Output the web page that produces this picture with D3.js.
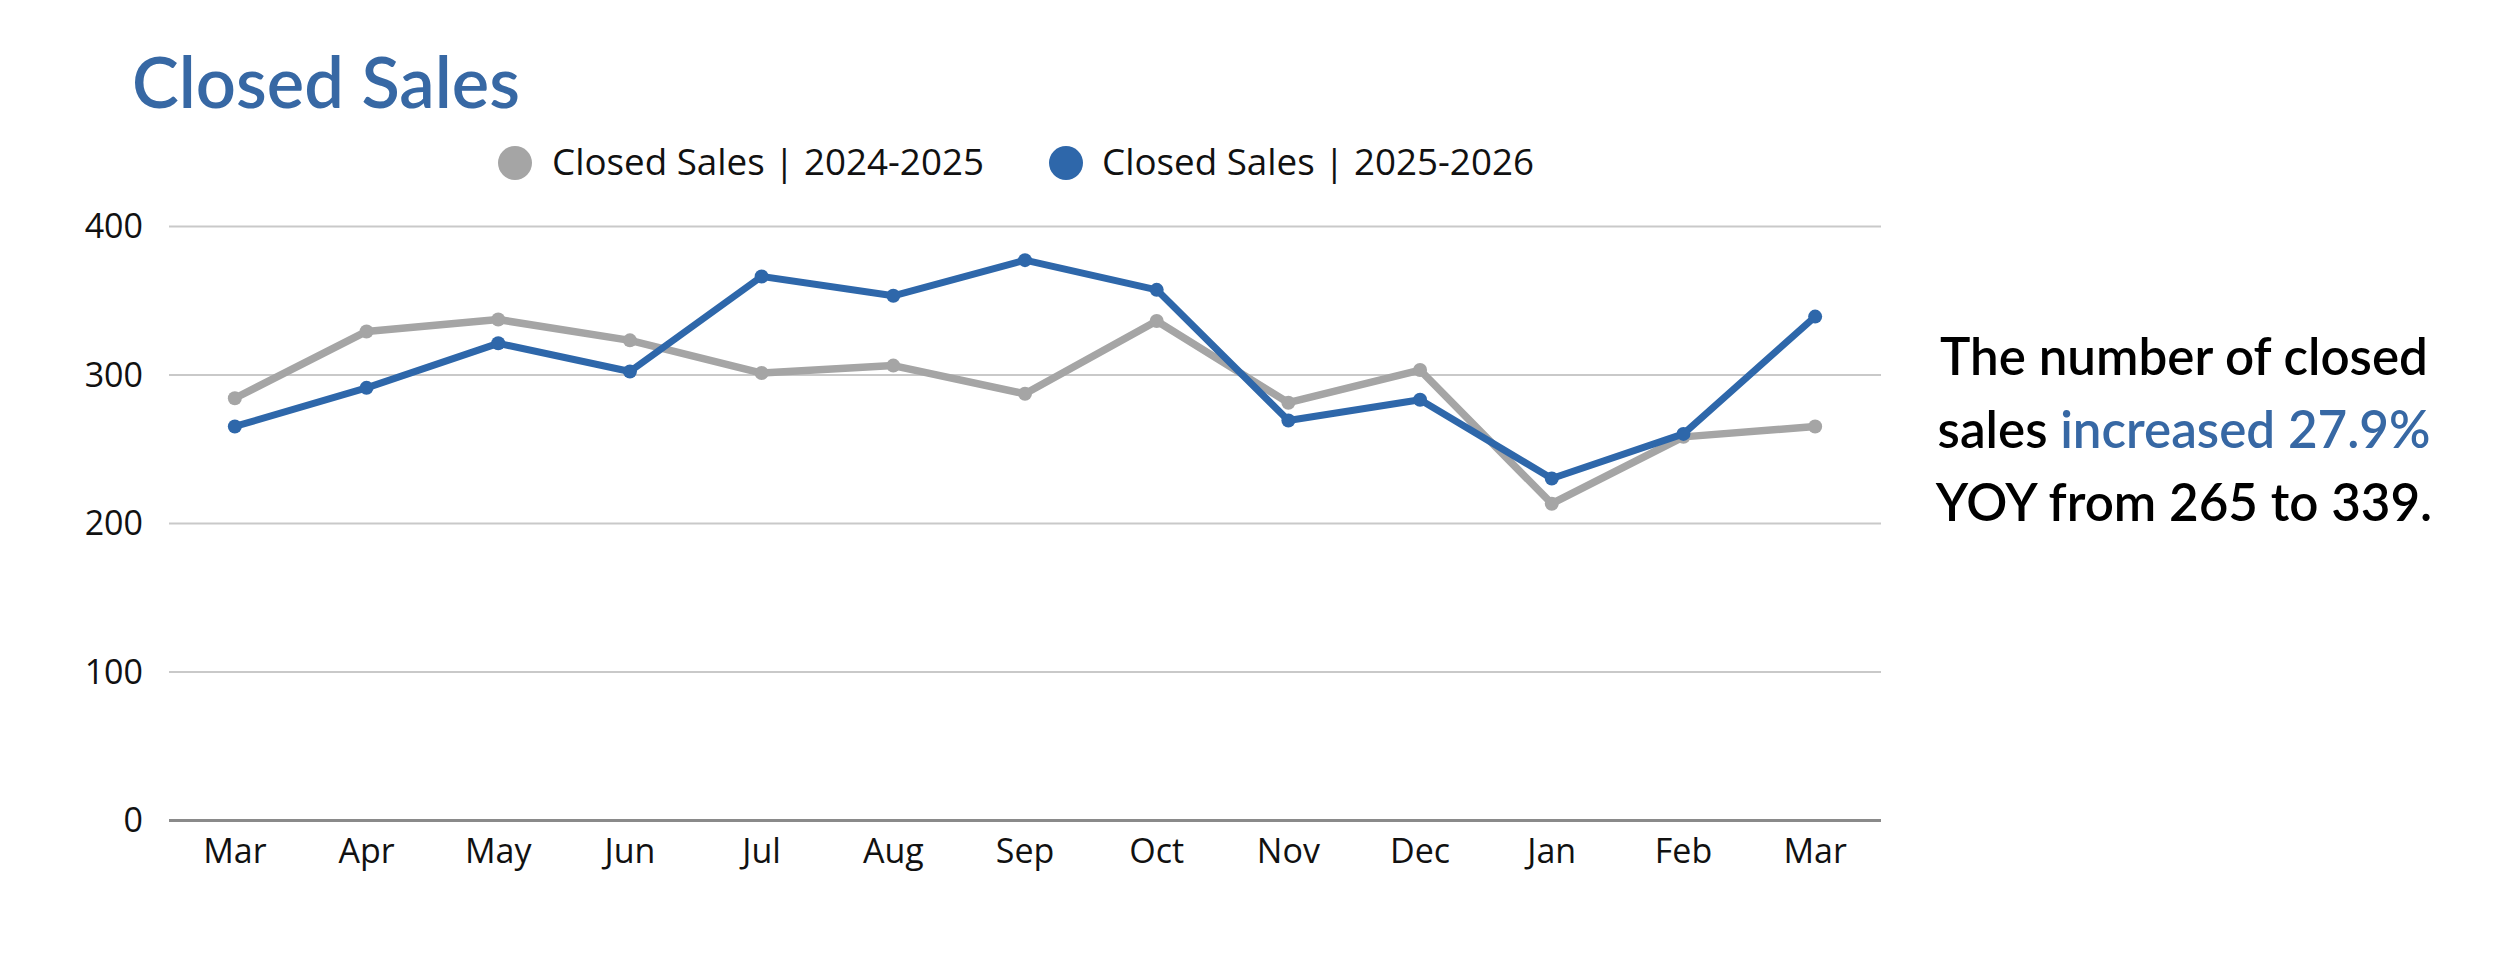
<!DOCTYPE html>
<html>
<head>
<meta charset="utf-8">
<script src="https://cdn.jsdelivr.net/npm/d3@7"></script>
<style>
  html, body { margin: 0; padding: 0; background: #ffffff; }
  svg { display: block; }
</style>
</head>
<body>
<svg id="chart" width="2500" height="966"></svg>
<script>
const months = ["Mar","Apr","May","Jun","Jul","Aug","Sep","Oct","Nov","Dec","Jan","Feb","Mar"];
const sales2024_2025 = [284, 329, 337, 323, 301, 306, 287, 336, 281, 303, 213, 258, 265];
const sales2025_2026 = [265, 291, 321, 302, 366, 353, 377, 357, 269, 283, 230, 260, 339];
const yTicks = [0, 100, 200, 300, 400];
const seriesNames = ["Closed Sales | 2024-2025", "Closed Sales | 2025-2026"];
const titleText = "Closed Sales";

const W = 2500, H = 966;
const margin = { left: 169, right: 2500 - 1881, top: 226, bottom: 966 - 820 };
const svg = d3.select("#chart");
const uiFont = "'Open Sans', 'Noto Sans', sans-serif";
const headFont = "Lato, 'Noto Sans', sans-serif";
const grayC = "#a5a5a5", blueC = "#2e67aa", titleC = "#3768a4";

const x = d3.scaleBand().domain(d3.range(months.length))
  .range([margin.left, W - margin.right]).paddingInner(0).paddingOuter(0);
const y = d3.scaleLinear().domain([0, 400]).range([H - margin.bottom, margin.top]);
const cx = i => x(i) + x.bandwidth() / 2;

function fit(sel, target) {
  const w = sel.node().getComputedTextLength();
  const fs = parseFloat(sel.attr("font-size"));
  sel.attr("font-size", fs * target / w);
}

// Title
const t = svg.append("text").attr("x", 132).attr("y", 108)
  .attr("font-family", headFont).attr("font-weight", 600).attr("font-size", 75).attr("fill", titleC)
  .text(titleText);
fit(t, 388);

// Gridlines (y axis)
const yAxis = d3.axisLeft(y).tickValues(yTicks).tickSize(-(W - margin.left - margin.right)).tickPadding(26);
const gy = svg.append("g").attr("transform", `translate(${margin.left},0)`).call(yAxis);
gy.select(".domain").remove();
gy.selectAll(".tick line").attr("stroke", "#c9c9c9").attr("stroke-width", 2);
gy.selectAll(".tick").filter(d => d === 0).select("line").attr("stroke", "#8a8a8a").attr("stroke-width", 3);
gy.selectAll(".tick text").attr("font-family", uiFont).attr("font-size", 34).attr("fill", "#111").attr("x", -26).attr("dy", "0.35em");

// X axis labels
const xAxis = d3.axisBottom(x).tickFormat(i => months[i]).tickSize(0).tickPadding(0);
const gx = svg.append("g").attr("transform", `translate(0,${y(0)})`).call(xAxis);
gx.select(".domain").remove();
gx.selectAll(".tick text").attr("font-family", uiFont).attr("font-size", 34).attr("fill", "#111")
  .attr("y", 43).attr("dy", 0);

// Lines
const line = d3.line().x((d, i) => cx(i)).y(d => y(d));
const series = [
  { vals: sales2024_2025, color: grayC, w: 7.5 },
  { vals: sales2025_2026, color: blueC, w: 7 }
];
series.forEach(s => {
  svg.append("path").datum(s.vals).attr("d", line).attr("fill", "none")
    .attr("stroke", s.color).attr("stroke-width", s.w).attr("stroke-linejoin", "round");
  svg.append("g").selectAll("circle").data(s.vals).join("circle")
    .attr("cx", (d, i) => cx(i)).attr("cy", d => y(d)).attr("r", 7).attr("fill", s.color);
});

// Legend
const legend = [
  { name: seriesNames[0], color: grayC, cx: 515, tx: 552 },
  { name: seriesNames[1], color: blueC, cx: 1066, tx: 1102 }
];
legend.forEach(l => {
  svg.append("circle").attr("cx", l.cx).attr("cy", 163).attr("r", 17).attr("fill", l.color);
  const lt = svg.append("text").attr("x", l.tx).attr("y", 175).attr("font-family", uiFont)
    .attr("font-size", 33).attr("fill", "#111").text(l.name);
  fit(lt, 432);
});

// Annotation
const ann = svg.append("g").attr("font-family", headFont).attr("font-weight", 600).attr("text-anchor", "middle").attr("fill", "#000");
const l1 = ann.append("text").attr("x", 2184).attr("y", 375).attr("font-size", 55).text("The number of closed");
fit(l1, 488);
const fs = l1.attr("font-size");
const l2 = ann.append("text").attr("x", 2184).attr("y", 448).attr("font-size", fs);
l2.append("tspan").text("sales ");
l2.append("tspan").attr("fill", titleC).text("increased 27.9%");
ann.append("text").attr("x", 2184).attr("y", 521).attr("font-size", fs).text("YOY from 265 to 339.");
</script>
</body>
</html>
